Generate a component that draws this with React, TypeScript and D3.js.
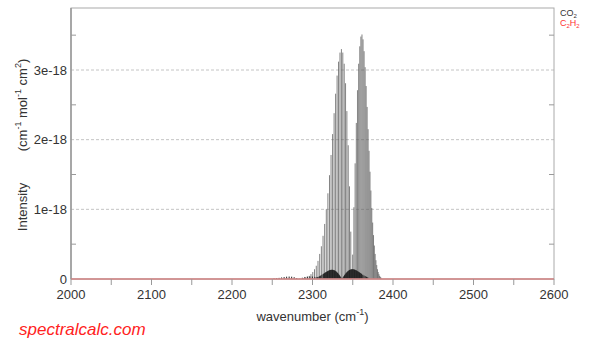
import * as d3 from 'd3';

// CO2 nu3 band, main isotopologue (cm-1, 1e-18 cm/molecule)
const co2Wavenumber = [
    2289.03, 2291.34, 2293.63, 2295.89, 2298.13, 2300.34, 2302.52, 2304.69, 2306.82, 2308.94,
    2311.02, 2313.09, 2315.12, 2317.14, 2319.13, 2321.1, 2323.03, 2324.95, 2326.83, 2328.69,
    2330.54, 2332.35, 2334.15, 2335.91, 2337.64, 2339.37, 2341.06, 2342.72, 2344.37, 2345.98,
    2347.57,
    2349.91, 2351.44, 2352.95, 2354.43, 2355.88, 2357.32, 2358.72, 2360.1, 2361.46, 2362.79,
    2364.09, 2365.38, 2366.63, 2367.87, 2369.07, 2370.26, 2371.41, 2372.55, 2373.66, 2374.73,
    2375.8, 2376.83, 2377.84, 2378.82, 2379.79, 2380.72, 2381.63, 2382.51, 2383.38, 2384.21,
    2385.03,
];
const co2Intensity = [
    0.013, 0.02, 0.03, 0.045, 0.07, 0.1, 0.14, 0.19, 0.26, 0.36,
    0.47, 0.62, 0.79, 1.0, 1.23, 1.49, 1.78, 2.08, 2.38, 2.66,
    2.92, 3.12, 3.25, 3.3, 3.25, 3.09, 2.81, 2.41, 1.92, 1.33,
    0.68,
    0.35, 1.03, 1.66, 2.24, 2.71, 3.09, 3.34, 3.48, 3.51, 3.44,
    3.27, 3.04, 2.77, 2.47, 2.15, 1.84, 1.54, 1.27, 1.02, 0.81,
    0.63, 0.48, 0.36, 0.27, 0.2, 0.14, 0.1, 0.07, 0.045, 0.031,
    0.02,
];

// CO2 hot band (01111-01101)
const hotWavenumber = [
    2305.43, 2306.99, 2308.55, 2310.11, 2311.67, 2313.23, 2314.01, 2314.79, 2315.57, 2316.35,
    2317.13, 2317.91, 2318.69, 2319.47, 2320.25, 2321.03, 2321.81, 2322.59, 2323.37, 2324.15,
    2324.93, 2325.71, 2326.49, 2327.27, 2328.05, 2328.83, 2329.61, 2330.39, 2331.17, 2331.95,
    2332.73, 2333.51, 2334.29, 2335.07, 2335.85,
    2337.41, 2338.19, 2338.97, 2339.75, 2340.53, 2341.31, 2342.09, 2342.87, 2343.65, 2344.43,
    2345.21, 2345.99, 2346.77, 2347.55, 2348.33, 2349.11, 2349.89, 2350.67, 2351.45, 2352.23,
    2353.01, 2353.79, 2354.57, 2355.35, 2356.13, 2356.91, 2357.69, 2358.47, 2359.25, 2360.03,
    2360.81, 2362.37, 2363.93, 2365.49, 2367.05, 2368.61,
];
const hotIntensity = [
    0.025, 0.031, 0.04, 0.049, 0.06, 0.071, 0.077, 0.083, 0.089, 0.095,
    0.101, 0.106, 0.111, 0.116, 0.121, 0.124, 0.128, 0.13, 0.131, 0.132,
    0.131, 0.13, 0.127, 0.123, 0.118, 0.112, 0.105, 0.096, 0.087, 0.076,
    0.065, 0.053, 0.04, 0.027, 0.014,
    0.014, 0.027, 0.041, 0.054, 0.066, 0.078, 0.089, 0.099, 0.108, 0.116,
    0.123, 0.128, 0.133, 0.136, 0.139, 0.14, 0.14, 0.139, 0.137, 0.134,
    0.131, 0.126, 0.122, 0.116, 0.111, 0.105, 0.099, 0.093, 0.087, 0.081,
    0.074, 0.062, 0.051, 0.041, 0.032, 0.025,
];

// 13CO2 nu3 band
const isoWavenumber = [
    2252.27, 2255.39, 2258.51, 2261.63, 2264.75, 2267.87, 2270.99, 2274.11, 2277.23, 2280.35,
    2284.25, 2287.37, 2290.49, 2293.61, 2296.73, 2299.85, 2302.97, 2306.09, 2309.21, 2312.33,
    2315.45,
];
const isoIntensity = [
    0.007, 0.011, 0.016, 0.022, 0.028, 0.033, 0.035, 0.033, 0.026, 0.014,
    0.004, 0.018, 0.029, 0.035, 0.037, 0.035, 0.03, 0.023, 0.016, 0.011,
    0.007,
];

// C2H2: nothing in this window
const c2h2Wavenumber = [2000, 2600];
const c2h2Intensity = [0, 0];

const xTicks = [2000, 2100, 2200, 2300, 2400, 2500, 2600];
const xMinorTicks = [2050, 2150, 2250, 2350, 2450, 2550];
const yTicks = [0, 1, 2, 3];
const yMinorTicks = [0.5, 1.5, 2.5, 3.5];

const W = 589;
const H = 340;
const margin = { top: 8, right: 35, bottom: 61, left: 71 };
const FONT = 'Liberation Sans, Arial, sans-serif';

export default function App() {
    const x = d3.scaleLinear().domain([2000, 2600]).range([margin.left, W - margin.right]);
    const y = d3.scaleLinear().domain([0, 3.89]).range([H - margin.bottom, margin.top]);
    const [x0, x1] = x.range();
    const [y0, y1] = y.range();

    const sticks = (xs: number[], vs: number[], color: string, width: number, key: string) =>
        xs.map((w, i) => (
            <line key={key + i} x1={x(w)} x2={x(w)} y1={y(0)} y2={y(vs[i])} stroke={color} strokeWidth={width} />
        ));

    const c2h2Line = d3
        .line<number>()
        .x((w) => x(w))
        .y((_, i) => y(c2h2Intensity[i]));

    return (
        <svg width={W} height={H} style={{ position: 'absolute', left: 0, top: 0, background: '#fff' }} fontFamily={FONT}>
            {/* grid */}
            {yTicks.slice(1).map((t) => (
                <line key={'g' + t} x1={x0} x2={x1} y1={y(t)} y2={y(t)} stroke="#c4c4c4" strokeWidth={1} strokeDasharray="3,2" />
            ))}

            {/* spectra */}
            {sticks(co2Wavenumber, co2Intensity, '#5a5a5a', 0.75, 'c')}
            {sticks(isoWavenumber, isoIntensity, '#222', 1, 'i')}
            {sticks(hotWavenumber, hotIntensity, '#222', 1, 'h')}

            {/* frame */}
            <rect x={x0} y={y1} width={x1 - x0} height={y0 - y1} fill="none" stroke="#aaa" strokeWidth={1} />
            <line x1={x0} x2={x0} y1={y1} y2={y0} stroke="#999" strokeWidth={1.5} />
            <path d={c2h2Line(c2h2Wavenumber) ?? ''} stroke="#d08080" strokeWidth={1.5} fill="none" />

            {/* y minor ticks */}
            {yMinorTicks.map((t) => (
                <g key={'ym' + t}>
                    <line x1={x0} x2={x0 + 5} y1={y(t)} y2={y(t)} stroke="#999" />
                    <line x1={x1 - 5} x2={x1} y1={y(t)} y2={y(t)} stroke="#999" />
                </g>
            ))}
            {yTicks.map((t) => (
                <text key={'yl' + t} x={x0 - 4} y={y(t)} dy="0.35em" textAnchor="end" fontSize={13} fill="#333">
                    {t === 0 ? '0' : `${t}e-18`}
                </text>
            ))}

            {/* x ticks */}
            {[...xTicks, ...xMinorTicks].map((t) => (
                <line key={'xt' + t} x1={x(t)} x2={x(t)} y1={y0} y2={y0 + 6} stroke="#999" />
            ))}
            {xTicks.map((t) => (
                <text key={'xl' + t} x={x(t)} y={y0 + 20} textAnchor="middle" fontSize={13} fill="#333">
                    {t}
                </text>
            ))}

            {/* axis titles */}
            <text x={(x0 + x1) / 2} y={y0 + 42} textAnchor="middle" fontSize={13} fill="#333">
                wavenumber (cm
                <tspan fontSize={9} dy={-6}>-1</tspan>
                <tspan dy={6}>)</tspan>
            </text>
            <text transform="translate(27,207) rotate(-90)" textAnchor="middle" fontSize={13} fill="#333">
                Intensity
            </text>
            <text transform="translate(27,105) rotate(-90)" textAnchor="middle" fontSize={13} fill="#333">
                (cm
                <tspan fontSize={9} dy={-6}>-1</tspan>
                <tspan dy={6}> mol</tspan>
                <tspan fontSize={9} dy={-6}>-1</tspan>
                <tspan dy={6}> cm</tspan>
                <tspan fontSize={9} dy={-6}>2</tspan>
                <tspan dy={6}>)</tspan>
            </text>

            {/* legend */}
            <text x={x1 + 6} y={16} fontSize={9} fill="#333">
                CO<tspan fontSize={6} dy={2}>2</tspan>
            </text>
            <text x={x1 + 6} y={26} fontSize={9} fill="#f33">
                C<tspan fontSize={6} dy={2}>2</tspan>
                <tspan dy={-2}>H</tspan>
                <tspan fontSize={6} dy={2}>2</tspan>
            </text>

            <text x={19} y={335} fontSize={17} fontStyle="italic" fill="#f22">
                spectralcalc.com
            </text>
        </svg>
    );
}
